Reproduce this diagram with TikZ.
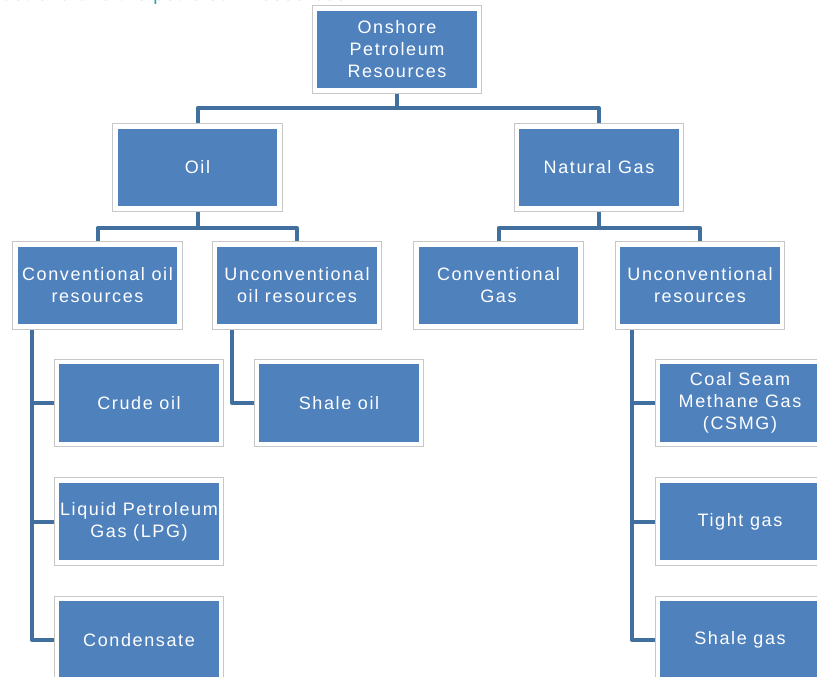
\documentclass[tikz,border=0pt]{standalone}
\usepackage{fontspec}
\newfontfamily\boxfont{Liberation Sans}[LetterSpace=9]
\newfontfamily\titlefont{Liberation Sans}[LetterSpace=6]
\usetikzlibrary{calc}
\definecolor{boxblue}{HTML}{4F81BD}
\definecolor{linkblue}{HTML}{41709F}
\definecolor{toptxt}{HTML}{2AA6A6}
\pgfdeclarelayer{background}
\pgfsetlayers{background,main}
\begin{document}
\begin{tikzpicture}[x=1pt,y=-1pt,
  box/.style={fill=boxblue, draw=white, line width=4.5pt,
    preaction={draw=black!22, line width=6.6pt},
    minimum width=164pt, minimum height=82pt, inner sep=0pt,
    text=white, font=\boxfont\fontsize{18}{22}\selectfont, align=center},
  link/.style={draw=linkblue, line width=4pt, line join=round}]
\useasboundingbox (0,0) rectangle (817,677);
\clip (0,0) rectangle (817,677);

\begin{scope}
  \clip (0,0) rectangle (500,20);
  \node[anchor=base west, inner sep=0pt, text=toptxt, font=\titlefont\fontsize{19}{22}\selectfont] (ttl) at (2,0.8) {ustralia and the petroleum resources};
\end{scope}

\node[box] (on)    at (397,49.5)  {Onshore\\Petroleum\\Resources};
\node[box] (oil)   at (197.5,167.5) {Oil};
\node[box] (ng)    at (599,167.5) {Natural Gas};
\node[box] (coil)  at (97.5,285.5) {Conventional oil\\resources};
\node[box] (uoil)  at (297,285.5) {Unconventional\\oil resources};
\node[box] (cgas)  at (498.5,285.5) {Conventional\\Gas};
\node[box] (ures)  at (700,285.5) {Unconventional\\resources};
\node[box] (crude) at (139,403) {Crude oil};
\node[box] (lpg)   at (139,521.5) {Liquid Petroleum\\Gas (LPG)};
\node[box] (cond)  at (139,640) {Condensate};
\node[box] (soil)  at (339,403) {Shale oil};
\node[box] (csmg)  at (740,403) {Coal Seam\\Methane Gas\\(CSMG)};
\node[box] (tight) at (740,521.5) {Tight gas};
\node[box] (sgas)  at (740,640) {Shale gas};

\coordinate (l1) at (0,108);
\coordinate (l2) at (0,228);
\coordinate (c1) at (32,0);
\coordinate (c2) at (232,0);
\coordinate (c3) at (632,0);

\begin{pgfonlayer}{background}
\fill[white] (0,0) rectangle (817,677);
\draw[link] (oil.north) |- (l1 -| on.south) -- (on.south);
\draw[link] (ng.north) |- (l1 -| on.south);
\draw[link] (coil.north) |- (l2 -| oil.south) -- (oil.south);
\draw[link] (uoil.north) |- (l2 -| oil.south);
\draw[link] (cgas.north) |- (l2 -| ng.south) -- (ng.south);
\draw[link] (ures.north) |- (l2 -| ng.south);
\draw[link] (coil.south -| c1) |- (cond.west);
\draw[link] (crude.west) -- (crude.west -| c1);
\draw[link] (lpg.west) -- (lpg.west -| c1);
\draw[link] (uoil.south -| c2) |- (soil.west);
\draw[link] (ures.south -| c3) |- (sgas.west);
\draw[link] (csmg.west) -- (csmg.west -| c3);
\draw[link] (tight.west) -- (tight.west -| c3);
\end{pgfonlayer}
\end{tikzpicture}
\end{document}
